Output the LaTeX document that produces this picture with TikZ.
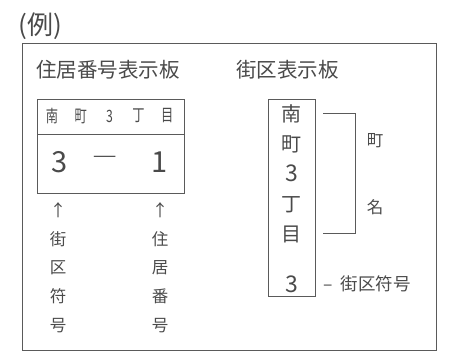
\documentclass[tikz,border=0pt]{standalone}
\usepackage{fontspec}
\setmainfont{Noto Sans CJK JP}
\usetikzlibrary{positioning}
\definecolor{inkgrey}{HTML}{4A4A4A}
\definecolor{framegrey}{HTML}{5A5A5A}
\newcommand{\fsz}[1]{\fontsize{#1}{#1}\selectfont}

\begin{document}
\begin{tikzpicture}[x=1pt,y=-1pt,line width=0.9pt]
    \tikzstyle{every node}=[text=inkgrey,inner sep=0pt]
    \tikzset{panel/.style={draw=framegrey}}
    \tikzset{vlabel/.style={align=center,font=\fontsize{16.5}{28.7}\selectfont}}
    \useasboundingbox (0,0) rectangle (462,354);
    % title and frame
    \node[anchor=west,font=\fsz{26}] (rei) at (18,26) {(例)};
    \draw[panel,line width=1pt] (22,43) rectangle (436,350);
    \node[anchor=west,font=\fsz{20.5}] (jukyo) at (36,70) {住居番号表示板};
    \node[anchor=west,font=\fsz{20.5}] (gaiku) at (236,70) {街区表示板};
    % house number plate
    \draw[panel] (37,99) rectangle (184,193);
    \draw[panel] (37,134) -- (184,134);
    \foreach \c [count=\i] in {南,町,3,丁,目}
        \node[font=\fsz{17},xscale=0.72] (top\i) at ({52+(\i-1)*28.8},116) {\c};
    \node[font=\fsz{29}] (blk) at (60,162) {3};
    \node[font=\fsz{28},xscale=0.9] (dash) at (105,162) {―};
    \node[font=\fsz{29}] (hse) at (160,162) {1};
    \node[vlabel,anchor=north] (blklbl) at (58,202) {↑\\街\\区\\符\\号};
    \node[vlabel,anchor=north] (hselbl) at (160,202) {↑\\住\\居\\番\\号};
    % block plate
    \draw[panel] (268,99) rectangle (315,296);
    \node[align=center,anchor=north,font=\fontsize{20}{30}\selectfont] (town) at (291.5,104) {南\\町\\{\fontsize{23}{30}\selectfont 3}\\丁\\目};
    \node[font=\fsz{23}] (num) at (291.5,284) {3};
    \coordinate (brtop) at (323,113);
    \coordinate (brbot) at (323,233);
    \draw[panel,line width=0.8pt] (brtop) -| (355,233) -- (brbot);
    \node[font=\fsz{16.5}] (cho) at (375,141) {町};
    \node[font=\fsz{16.5}] (mei) at (375,207) {名};
    \node[anchor=west,font=\fsz{17.5}] (numlbl) at (323,284) {–\hspace{8pt}街区符号};
\end{tikzpicture}
\end{document}
